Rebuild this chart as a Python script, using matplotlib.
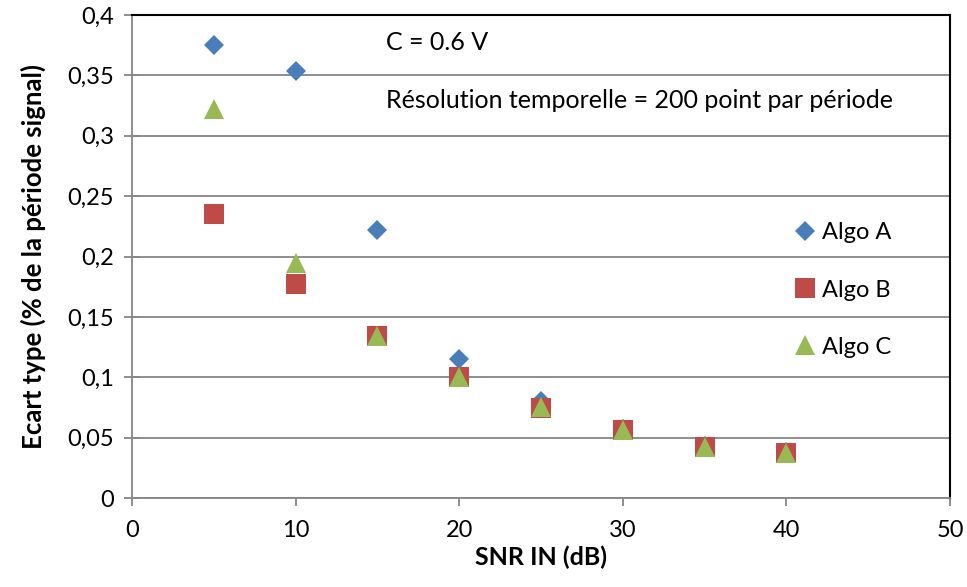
import matplotlib
matplotlib.use("Agg")
import matplotlib.pyplot as plt

plt.rcParams['font.family'] = ['Lato', 'DejaVu Sans']

snr_db = [5, 10, 15, 20, 25, 30, 35, 40]
algo_a = [0.375, 0.354, 0.222, 0.115, 0.080, 0.057, 0.043, 0.038]
algo_b = [0.235, 0.177, 0.134, 0.100, 0.0745, 0.056, 0.042, 0.037]
algo_c = [0.322, 0.195, 0.134, 0.100, 0.075, 0.056, 0.042, 0.037]

x_ticks = [0, 10, 20, 30, 40, 50]
y_ticks = [0, 0.05, 0.1, 0.15, 0.2, 0.25, 0.3, 0.35, 0.4]
y_tick_labels = ['0', '0,05', '0,1', '0,15', '0,2', '0,25', '0,3', '0,35', '0,4']

grey = '#868686'

fig = plt.figure(figsize=(9.67, 5.87), dpi=100)
ax = fig.add_axes([0.1365, 0.1516, 0.8459, 0.8228])

ax.plot(snr_db, algo_a, linestyle='none', marker='D', markersize=10.2,
        color='#4a7ebb', markeredgewidth=0, label='Algo A', zorder=3)
ax.plot(snr_db, algo_b, linestyle='none', marker='s', markersize=14.2,
        color='#be4b48', markeredgewidth=0, label='Algo B', zorder=4)
ax.plot(snr_db, algo_c, linestyle='none', marker='^', markersize=14.4,
        color='#98b954', markeredgewidth=0, label='Algo C', zorder=5)

ax.set_xlim(0, 50)
ax.set_ylim(0, 0.4)
ax.set_xticks(x_ticks)
ax.set_xticklabels([str(t) for t in x_ticks])
ax.set_yticks(y_ticks)
ax.set_yticklabels(y_tick_labels)

ax.yaxis.grid(True, color=grey, linewidth=1.3)
ax.set_axisbelow(True)

for side in ('left', 'bottom'):
    ax.spines[side].set_color(grey)
    ax.spines[side].set_linewidth(1.3)
for side in ('top', 'right'):
    ax.spines[side].set_color('black')
    ax.spines[side].set_linewidth(1.5)

ax.tick_params(axis='both', labelsize=17, colors='black')
ax.tick_params(axis='y', direction='inout', length=12, width=1.3, color=grey, pad=7)
ax.tick_params(axis='x', direction='out', length=6, width=1.3, color=grey, pad=10)

ax.set_xlabel('SNR IN (dB)', fontsize=18, fontweight='bold', labelpad=3)
ax.set_ylabel('Ecart type (% de la période signal)', fontsize=18.5,
              fontweight='bold', labelpad=15)

ax.text(0.311, 0.944, 'C = 0.6 V', transform=ax.transAxes, fontsize=18,
        va='center', ha='left')
ax.text(0.311, 0.824, 'Résolution temporelle = 200 point par période',
        transform=ax.transAxes, fontsize=18, va='center', ha='left')

ax.legend(loc='upper left', bbox_to_anchor=(0.794, 0.595), frameon=False,
          fontsize=17, handlelength=1.0, handletextpad=0.2,
          labelspacing=1.53, borderpad=0)

fig.savefig('out.png', dpi=100)
